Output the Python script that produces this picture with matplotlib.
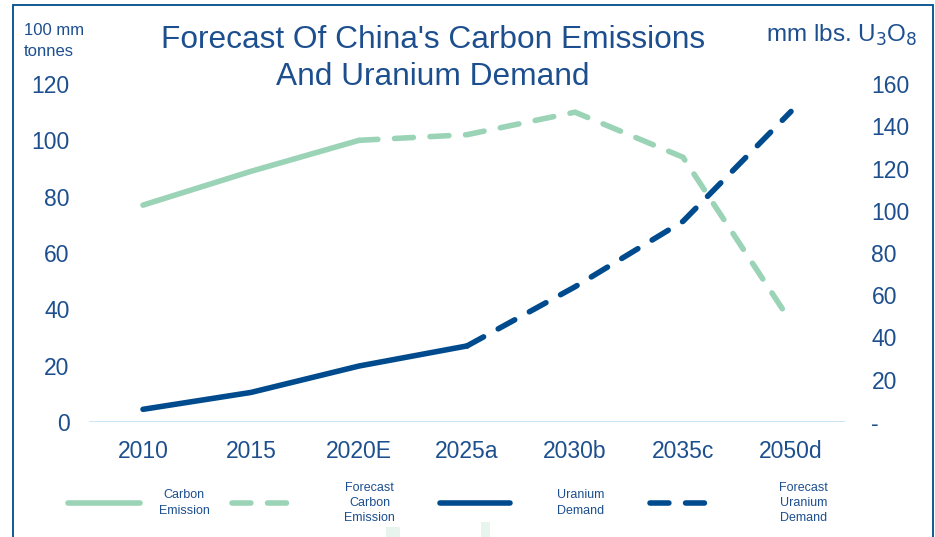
import matplotlib.pyplot as plt
from matplotlib.patches import Rectangle

# categories and values
years = ['2010', '2015', '2020E', '2025a', '2030b', '2035c', '2050d']
carbon = [77, 89, 100]                  # 100 mm tonnes, actual
carbon_fc = [100, 102, 110, 94, 35.5]   # from 2020E onwards
uranium = [6, 14, 26.5, 36]             # mm lbs U3O8, actual
uranium_fc = [36, 64, 95, 147]          # from 2025a onwards

green = '#9bd3b7'
navy = '#004b8d'
txt = '#1d4f8f'

plt.rcParams['font.family'] = ['Liberation Sans', 'DejaVu Sans']

fig = plt.figure(figsize=(9.35, 5.37), dpi=100)
ax = fig.add_axes([89 / 935, 115 / 537, 756 / 935, 338 / 537])
ax2 = ax.twinx()

x = list(range(len(years)))
lw = 4

l1, = ax.plot(x[:3], carbon, color=green, lw=lw, solid_capstyle='round',
              label='Carbon\nEmission')
l2, = ax.plot(x[2:], carbon_fc, color=green, lw=lw, ls=(0, (3.4, 3.0)),
              dash_capstyle='round', label='Forecast\nCarbon\nEmission')
l3, = ax2.plot(x[:4], uranium, color=navy, lw=lw, solid_capstyle='round',
               label='Uranium\nDemand')
l4, = ax2.plot(x[3:], uranium_fc, color=navy, lw=lw, ls=(0, (3.4, 3.0)),
               dash_capstyle='round', label='Forecast\nUranium\nDemand')

ax.set_xlim(-0.5, 6.5)
ax.set_ylim(0, 120)
ax2.set_ylim(0, 160)
ax.set_yticks(range(0, 121, 20))
ax2.set_yticks(range(0, 161, 20))
ax2.set_yticklabels(['-'] + [str(v) for v in range(20, 161, 20)])
ax.set_xticks(x)
ax.set_xticklabels(years)

for a in (ax, ax2):
    for s in a.spines.values():
        s.set_visible(False)
    a.tick_params(length=0, colors=txt, labelsize=16.5)
ax.tick_params(axis='y', pad=14)
ax2.tick_params(axis='y', pad=19)
ax.tick_params(axis='x', pad=13)
ax.axhline(0, color='#c6e2f7', lw=2, zorder=0)

fig.text(433 / 935, 1 - 40 / 537, "Forecast Of China's Carbon Emissions",
         ha='center', va='center', fontsize=22.8, color=txt)
fig.text(433 / 935, 1 - 77 / 537, "And Uranium Demand",
         ha='center', va='center', fontsize=22.8, color=txt)
fig.text(24 / 935, 1 - 41 / 537, "100 mm\ntonnes", ha='left', va='center',
         fontsize=12, color=txt, linespacing=1.45)
fig.text(918 / 935, 1 - 35 / 537, "mm lbs. U$_3$O$_8$", ha='right',
         va='center', fontsize=17.5, color=txt)

# one legend per entry so each sits where the reference has it
entries = [(l1, 68, 72, 1.5), (l2, 232, 66, 3.7),
           (l3, 440, 70, 3.75), (l4, 650, 62, 5.4)]
for h, x0, hl, pad in entries:
    leg = fig.legend(handles=[h], loc='center left',
                     bbox_to_anchor=(x0 / 935, 1 - 503 / 537), frameon=False,
                     fontsize=9, handlelength=hl / 12.5, handletextpad=pad,
                     borderpad=0, borderaxespad=0, labelcolor=txt)
    for t in leg.get_texts():
        t.set_multialignment('center')
        t.set_linespacing(1.35)

# frame around the chart and faint watermark bits at the bottom
fig.add_artist(Rectangle((12.5 / 935, -0.05), 920 / 935, 1.05 - 5 / 537,
                         transform=fig.transFigure, fill=False,
                         ec=navy, lw=1.3))
fig.add_artist(Rectangle((386 / 935, 0), 14 / 935, 10 / 537,
                         transform=fig.transFigure, color='#e8f4ee', lw=0))
fig.add_artist(Rectangle((481 / 935, 0), 9 / 935, 15 / 537,
                         transform=fig.transFigure, color='#e8f4ee', lw=0))

fig.savefig('out.png', dpi=100)
